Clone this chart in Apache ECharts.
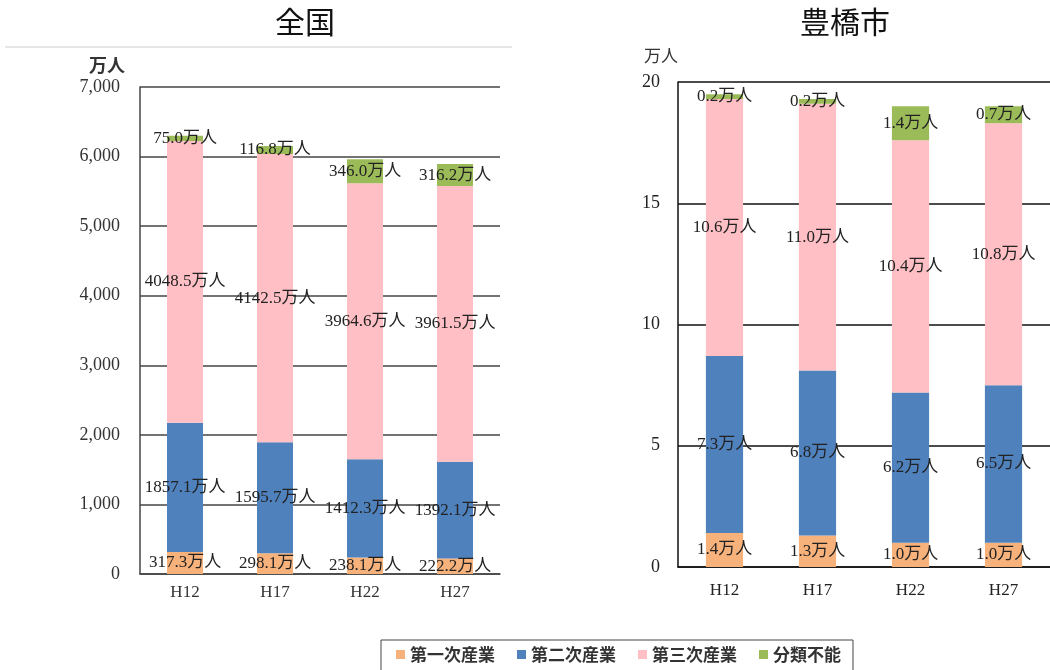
<!DOCTYPE html>
<html>
<head>
<meta charset="utf-8">
<script src="https://cdn.jsdelivr.net/npm/echarts@6/dist/echarts.min.js"></script>
<style>
  html, body { margin: 0; padding: 0; background: #fff; }
  #main { width: 1050px; height: 670px; }
</style>
</head>
<body>
<div id="main"></div>
<script>
var years = ['H12', 'H17', 'H22', 'H27'];
var seriesNames = ['第一次産業', '第二次産業', '第三次産業', '分類不能'];
var colors = ['#F7B27C', '#4F81BD', '#FFBFC4', '#9BBB59'];

// 全国 (万人)
var zenkoku1 = [317.3, 298.1, 238.1, 222.2];
var zenkoku2 = [1857.1, 1595.7, 1412.3, 1392.1];
var zenkoku3 = [4048.5, 4142.5, 3964.6, 3961.5];
var zenkoku4 = [75.0, 116.8, 346.0, 316.2];

// 豊橋市 (万人)
var toyo1 = [1.4, 1.3, 1.0, 1.0];
var toyo2 = [7.3, 6.8, 6.2, 6.5];
var toyo3 = [10.6, 11.0, 10.4, 10.8];
var toyo4 = [0.2, 0.2, 1.4, 0.7];

var serif = '"Liberation Serif", "DejaVu Serif", "Noto Sans CJK JP", serif';
var sans = '"Noto Sans CJK JP", "Noto Sans", sans-serif';

function makeSeries(name, data, idx, stack, fontSize) {
  return {
    name: name,
    type: 'bar',
    stack: stack,
    xAxisIndex: idx,
    yAxisIndex: idx,
    barWidth: '40%',
    data: data,
    label: {
      show: true,
      position: 'inside',
      color: '#222',
      fontFamily: serif,
      fontSize: fontSize,
      formatter: function (p) { return p.value.toFixed(1) + '万人'; }
    }
  };
}

var chart = echarts.init(document.getElementById('main'));
var option = {
  animation: false,
  color: colors,
  title: [
    { text: '全国', left: 300, top: 2, textAlign: 'center',
      textStyle: { fontFamily: sans, fontSize: 30, fontWeight: 'normal', color: '#111' } },
    { text: '豊橋市', left: 840, top: 2, textAlign: 'center',
      textStyle: { fontFamily: sans, fontSize: 30, fontWeight: 'normal', color: '#111' } }
  ],
  legend: {
    data: seriesNames,
    left: 381,
    top: 640,
    icon: 'rect',
    itemWidth: 9,
    itemHeight: 9,
    itemGap: 22,
    padding: [6, 12, 8, 15],
    borderColor: '#444',
    borderWidth: 1,
    textStyle: { fontFamily: sans, fontSize: 17, fontWeight: 'bold', color: '#333' }
  },
  graphic: [
    { type: 'line', shape: { x1: 5, y1: 47, x2: 512, y2: 47 },
      style: { stroke: '#e6e6e6', lineWidth: 2 } }
  ],
  grid: [
    { left: 140, top: 87, width: 360, height: 487 },
    { left: 678, top: 82, width: 378, height: 485 }
  ],
  xAxis: [
    { type: 'category', gridIndex: 0, data: years,
      axisLine: { lineStyle: { color: '#444', width: 1.5 } },
      axisTick: { show: false },
      axisLabel: { fontFamily: serif, fontSize: 17, color: '#333', margin: 10 } },
    { type: 'category', gridIndex: 1, data: years,
      axisLine: { lineStyle: { color: '#111', width: 1.5 } },
      axisTick: { show: false },
      axisLabel: { fontFamily: serif, fontSize: 17, color: '#222', margin: 15 } }
  ],
  yAxis: [
    { type: 'value', gridIndex: 0, min: 0, max: 7000, interval: 1000,
      name: '万人', nameLocation: 'end', nameGap: 13,
      nameTextStyle: { fontFamily: sans, fontSize: 18, fontWeight: 'bold', color: '#333', align: 'right', padding: [0, 15, 0, 0] },
      axisLine: { show: true, lineStyle: { color: '#444', width: 1.5 } },
      axisTick: { show: false },
      splitLine: { lineStyle: { color: '#444', width: 1.5 } },
      axisLabel: { fontFamily: serif, fontSize: 18, color: '#333', margin: 20,
        formatter: function (v) { return v.toLocaleString('en-US'); } } },
    { type: 'value', gridIndex: 1, min: 0, max: 20, interval: 5,
      name: '万人', nameLocation: 'end', nameGap: 18,
      nameTextStyle: { fontFamily: sans, fontSize: 17, color: '#333', align: 'right', padding: [0, 0, 0, 0] },
      axisLine: { show: true, lineStyle: { color: '#111', width: 1.5 } },
      axisTick: { show: false },
      splitLine: { lineStyle: { color: '#111', width: 1.5 } },
      axisLabel: { fontFamily: serif, fontSize: 18, color: '#222', margin: 18 } }
  ],
  series: [
    makeSeries(seriesNames[0], zenkoku1, 0, 'a', 17),
    makeSeries(seriesNames[1], zenkoku2, 0, 'a', 17),
    makeSeries(seriesNames[2], zenkoku3, 0, 'a', 17),
    makeSeries(seriesNames[3], zenkoku4, 0, 'a', 17),
    makeSeries(seriesNames[0], toyo1, 1, 'b', 17),
    makeSeries(seriesNames[1], toyo2, 1, 'b', 17),
    makeSeries(seriesNames[2], toyo3, 1, 'b', 17),
    makeSeries(seriesNames[3], toyo4, 1, 'b', 17)
  ]
};
chart.setOption(option);
</script>
</body>
</html>
